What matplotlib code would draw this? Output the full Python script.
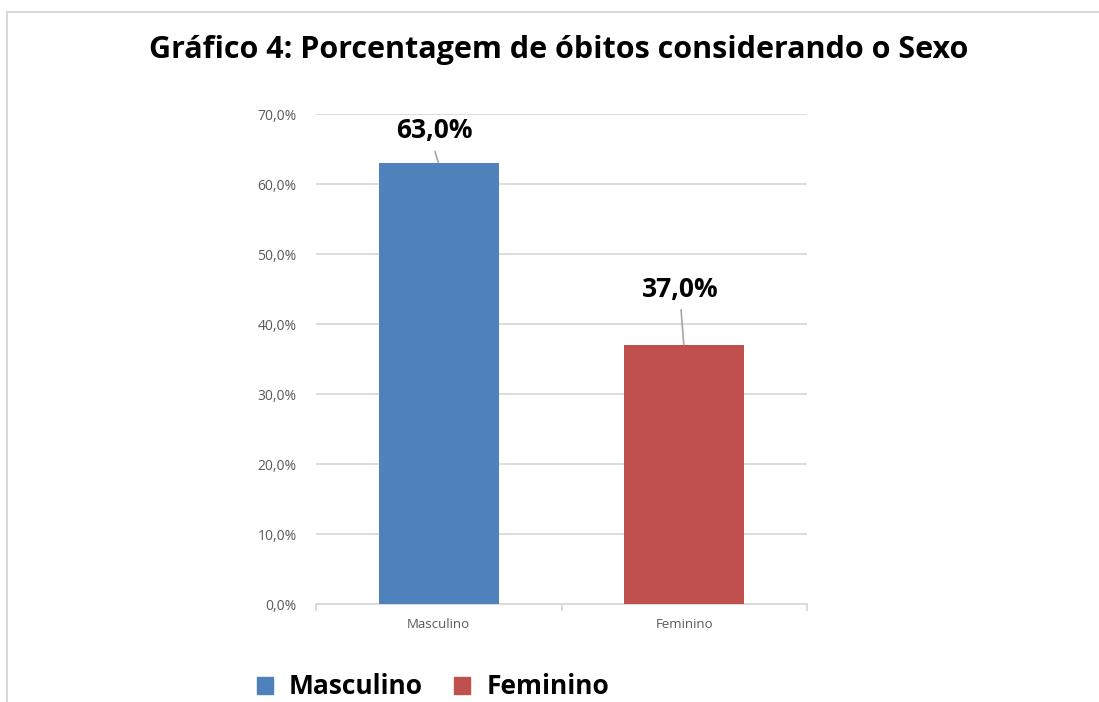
import matplotlib
matplotlib.use("Agg")
import matplotlib.pyplot as plt
from matplotlib.patches import Rectangle
from matplotlib.lines import Line2D

categories = ["Masculino", "Feminino"]
values = [63.0, 37.0]
colors = ["#4F81BD", "#C0504D"]
yticks = [0, 10, 20, 30, 40, 50, 60, 70]
title = "Gráfico 4: Porcentagem de óbitos considerando o Sexo"

W, H = 1099, 702
fig = plt.figure(figsize=(W / 100, H / 100), dpi=100)
fig.patch.set_facecolor("white")

# chart border (top and left edges visible)
fig.add_artist(Line2D([7 / W, 7 / W], [0, 1 - 12 / H], color="#D9D9D9", lw=1.5))
fig.add_artist(Line2D([7 / W, 1], [1 - 12 / H, 1 - 12 / H], color="#D9D9D9", lw=1.5))

ax = fig.add_axes([316 / W, 1 - 604 / H, (807 - 316) / W, (604 - 114) / H])
x = list(range(len(categories)))
bars = ax.bar(x, values, width=0.49, color=colors, zorder=3)
ax.set_xlim(-0.5, 1.5)
ax.set_ylim(0, 70)
ax.set_yticks(yticks)
ax.set_yticklabels([f"{v:.1f}%".replace(".", ",") for v in yticks],
                   fontsize=10, color="#595959", family="Open Sans")
ax.yaxis.grid(True, color="#D9D9D9", lw=1.3, zorder=0)
ax.tick_params(axis="y", length=0, pad=14)
ax.set_xticks([-0.5, 0.5, 1.5], minor=False)
ax.set_xticklabels([])
ax.set_xticks(x, minor=True)
ax.set_xticklabels(categories, minor=True, fontsize=9.5, color="#595959", family="Open Sans")
ax.tick_params(axis="x", which="major", length=5, color="#D9D9D9", width=1.3)
ax.tick_params(axis="x", which="minor", length=0, pad=10)
for s in ["top", "right", "left"]:
    ax.spines[s].set_visible(False)
ax.spines["bottom"].set_color("#D9D9D9")
ax.spines["bottom"].set_linewidth(1.3)

# data labels with leader lines: (label dx, label dy, leader top dy)
label_pos = [(-0.017, 4.6, 1.6), (-0.015, 8.0, 5.0)]
for xi, v, (dx, dy, ldy) in zip(x, values, label_pos):
    lx, ly = xi + dx, v + dy
    ax.text(lx, ly, f"{v:.1f}%".replace(".", ","), ha="center", va="center",
            fontsize=19, fontweight="bold", family="Open Sans", color="black", zorder=5)
    ax.plot([lx + 0.002, xi - 0.002], [v + ldy, v + 0.1],
            color="#A6A6A6", lw=1.2, zorder=4, clip_on=False)

fig.text(0.5 * (148 + 970) / W, 1 - 50 / H, title, ha="center", va="center",
         fontsize=22, fontweight="bold", family="Open Sans")

# legend
handles = [Rectangle((0, 0), 1, 1, color=c) for c in colors]
leg = fig.legend(handles, categories, loc="center", bbox_to_anchor=(433 / W, 1 - 687 / H),
                 ncol=2, frameon=False, prop={"size": 19, "weight": "bold", "family": "Open Sans"},
                 handlelength=0.6, handleheight=0.6, handletextpad=0.6, columnspacing=1.2)

fig.savefig("out.png", dpi=100, facecolor="white")
